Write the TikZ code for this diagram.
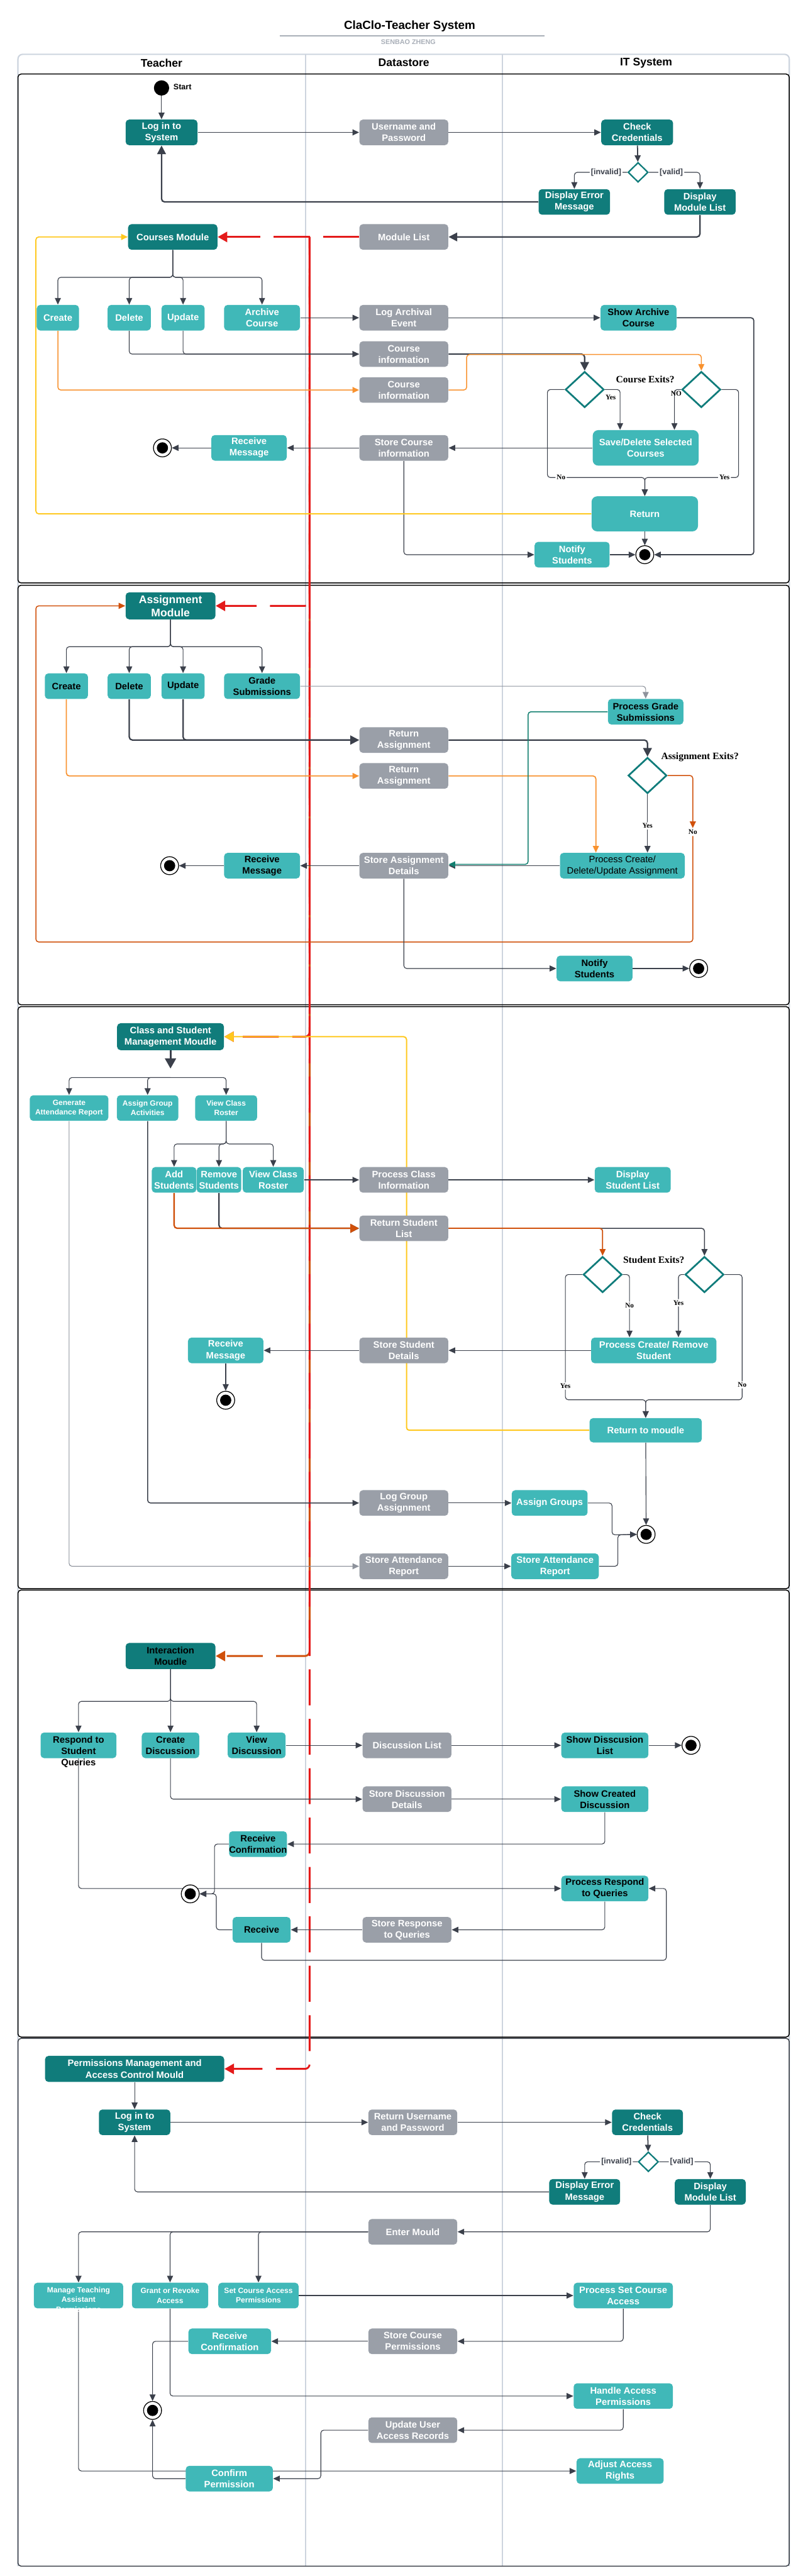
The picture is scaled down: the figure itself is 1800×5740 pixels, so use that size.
\documentclass[tikz,border=0pt]{standalone}
\usepackage{fontspec}
\setmainfont{Liberation Sans}
\newfontfamily\serifb{Liberation Serif}
\usetikzlibrary{arrows.meta,shapes.geometric}

\definecolor{deepteal}{HTML}{107C7B}
\definecolor{liteteal}{HTML}{40B8B8}
\definecolor{storegray}{HTML}{9A9FA8}
\definecolor{lanegray}{HTML}{CDD4DE}
\definecolor{linkgray}{HTML}{3B404B}
\definecolor{paleline}{HTML}{8E939C}
\definecolor{lightorange}{HTML}{F8922F}
\definecolor{burnt}{HTML}{D0500A}
\definecolor{sunny}{HTML}{FFC81E}
\definecolor{hotred}{HTML}{E41A1A}
\definecolor{tealline}{HTML}{127F70}
\definecolor{subgray}{HTML}{A9AFB8}
\definecolor{slate}{HTML}{3A3F47}

\newcommand{\boxfont}{\fontsize{5.9}{7.2}\selectfont\bfseries}
\newcommand{\bigboxfont}{\fontsize{7}{8.3}\selectfont\bfseries}
\newcommand{\smallboxfont}{\fontsize{4.8}{6.1}\selectfont\bfseries}
\newcommand{\plainboxfont}{\fontsize{5.9}{7.2}\selectfont}
\newcommand{\ynfont}{\fontsize{4.5}{5}\selectfont\serifb\bfseries}
\newcommand{\askfont}{\fontsize{6.2}{7}\selectfont\serifb\bfseries}

\pgfdeclarelayer{lanes}
\pgfdeclarelayer{links}
\pgfsetlayers{lanes,links,main}

\tikzset{
  tipa/.tip={Triangle[length=4.2pt,width=3.8pt]},
  tipb/.tip={Triangle[length=5.5pt,width=5.5pt]},
  tipc/.tip={Triangle[length=6pt,width=6.5pt]},
  tipd/.tip={Triangle[length=6.5pt,width=7pt]}
}

\begin{document}
\begin{tikzpicture}[
    x=0.01cm, y=-0.01cm,   % one unit = one pixel of the sheet, y runs down
    box/.style = {rectangle, rounded corners=2.2pt, minimum height=0.57cm, inner xsep=1.5pt, inner ysep=1pt, align=center, font=\boxfont},
    deep/.style = {box, fill=deepteal, text=white},
    deepk/.style = {box, fill=deepteal, text=black},
    lite/.style = {box, fill=liteteal, text=white},
    litek/.style = {box, fill=liteteal, text=black},
    store/.style = {box, fill=storegray, text=white, minimum width=1.98cm},
    choice/.style = {diamond, draw=deepteal, fill=white, line width=1.1pt, inner sep=0pt, minimum width=0.86cm, minimum height=0.8cm},
    gate/.style = {choice, line width=0.9pt, minimum width=0.45cm, minimum height=0.44cm},
    done/.style = {circle, draw=black, line width=0.5pt, fill=white, minimum size=0.4cm, inner sep=0pt,
                   path picture={\fill[black] (path picture bounding box.center) circle (0.125cm);}},
    startpt/.style = {circle, fill=black, minimum size=0.34cm, inner sep=0pt},
    link/.style = {draw=linkgray, line width=0.45pt, rounded corners=1.8pt, -{tipa}},
    heavy/.style = {draw=linkgray, line width=0.9pt, rounded corners=2pt, -{tipb}},
    hot/.style = {draw=hotred, line width=1.15pt, dash pattern=on 0.8cm off 0.3cm, rounded corners=3pt, -{tipc}},
    yn/.style = {font=\ynfont, fill=white, inner sep=0.8pt},
    gtxt/.style = {font=\fontsize{5}{6}\selectfont\bfseries, text=linkgray, fill=white, inner sep=0.8pt},
    ask/.style = {font=\askfont},
    lane/.style = {draw=lanegray, line width=0.85pt},
    part/.style = {draw=black, line width=0.6pt, rounded corners=2pt}
  ]
  \useasboundingbox (0,0) rectangle (1800,5740);

  % title
  \node[font=\fontsize{7.5}{9}\selectfont\bfseries] (title) at (913,58) {ClaClo-Teacher System};
  \draw[subgray, line width=0.5pt] (623,80) -- (1214,80);
  \node[font=\fontsize{4.3}{5}\selectfont\bfseries, text=subgray] (author) at (910,94) {SENBAO ZHENG};

  % pool, lanes and the five parts
  \begin{pgfonlayer}{lanes}
    \draw[lane, rounded corners=3pt] (40,5718) -- (40,121) -- (1759,121) -- (1759,5718);
    \draw[lane] (681,121) -- (681,5718);
    \draw[lane] (1120,121) -- (1120,5718);
    \foreach \ya/\yb in {165/1299, 1304/2239, 2243/3540, 3543/4539}
      \draw[part] (40,\ya) rectangle (1759,\yb);
    \draw[part, draw=slate] (40,4542) rectangle (1759,5718);
  \end{pgfonlayer}
  \node[font=\fontsize{7}{8}\selectfont\bfseries] (laneA) at (360,140) {Teacher};
  \node[font=\fontsize{7}{8}\selectfont\bfseries] (laneB) at (900,140) {Datastore};
  \node[font=\fontsize{7}{8}\selectfont\bfseries] (laneC) at (1440,140) {IT System};

  % ---- courses ----
  \node[startpt] (startc) at (360,196) {};
  \node[font=\fontsize{5}{6}\selectfont\bfseries, anchor=west, inner sep=0pt] (startlbl) at (386,194) {Start};
  \node[deep, minimum width=1.6cm] (login1) at (360,295) {Log in to\\System};
  \node[store] (user1) at (900,295) {Username and\\Password};
  \node[deep, minimum width=1.6cm] (check1) at (1420,295) {Check\\Credentials};
  \node[gate] (gate1) at (1422,384) {};
  \node[deep, minimum width=1.59cm] (err1) at (1280,450) {Display Error\\Message};
  \node[deep, minimum width=1.59cm] (mlist1) at (1560,450) {Display\\Module List};
  \node[store] (modlist) at (900,528) {Module List};
  \node[deep, minimum width=1.99cm] (cmod) at (385,528) {Courses Module};
  \node[lite, minimum width=0.94cm] (ccreate) at (129,708) {Create};
  \node[lite, minimum width=0.96cm] (cdelete) at (288,708) {Delete};
  \node[lite, minimum width=0.96cm] (cupdate) at (408,708) {Update};
  \node[lite, minimum width=1.69cm] (carchive) at (584,708) {Archive\\Course};
  \node[store] (logarch) at (900,708) {Log Archival\\Event};
  \node[store] (cinfoa) at (900,789) {Course\\information};
  \node[store] (cinfob) at (900,869) {Course\\information};
  \node[litek, minimum width=1.69cm] (showarch) at (1423,708) {Show Archive\\Course};
  \node[choice] (cx1) at (1303,868) {};
  \node[choice] (cx2) at (1563,868) {};
  \node[ask] (cxask) at (1438,845) {Course Exits?};
  \node[yn, fill=none] (cxyes) at (1361,885) {Yes};
  \node[yn, fill=none] (cxno) at (1507,877) {NO};
  \node[lite, minimum width=2.36cm, minimum height=0.79cm, rounded corners=3.5pt] (savedel) at (1439,998) {Save/Delete Selected\\Courses};
  \node[lite, minimum width=2.37cm, minimum height=0.78cm, rounded corners=3.5pt] (retc) at (1437,1145) {Return};
  \node[lite, minimum width=1.67cm] (notify1) at (1275,1236) {Notify\\Students};
  \node[done] (end1) at (1437,1236) {};
  \node[store] (storec) at (900,998) {Store Course\\information};
  \node[lite, minimum width=1.68cm] (recv1) at (555,998) {Receive\\Message};
  \node[done] (end2) at (362,998) {};

  % ---- assignments ----
  \node[deep, minimum width=2cm, minimum height=0.6cm, font=\bigboxfont] (amod) at (380,1350) {Assignment\\Module};
  \node[litek, minimum width=0.96cm] (acreate) at (148,1529) {Create};
  \node[litek, minimum width=0.96cm] (adelete) at (288,1529) {Delete};
  \node[litek, minimum width=0.96cm] (aupdate) at (408,1529) {Update};
  \node[litek, minimum width=1.69cm] (agrade) at (584,1529) {Grade\\Submissions};
  \node[litek, minimum width=1.68cm] (pgrade) at (1439,1586) {Process Grade\\Submissions};
  \node[store] (reta) at (900,1649) {Return\\Assignment};
  \node[store] (retb) at (900,1729) {Return\\Assignment};
  \node[choice] (ax) at (1443,1728) {};
  \node[ask] (axask) at (1560,1687) {Assignment Exits?};
  \node[yn] (axno) at (1544,1854) {No};
  \node[litek, minimum width=2.78cm, font=\plainboxfont] (pcda) at (1387,1929) {Process Create/\\Delete/Update Assignment};
  \node[store] (storea) at (900,1929) {Store Assignment\\Details};
  \node[litek, minimum width=1.69cm] (recv2) at (584,1929) {Receive\\Message};
  \node[done] (end3) at (378,1929) {};
  \node[litek, minimum width=1.69cm] (notify2) at (1325,2158) {Notify\\Students};
  \node[done] (end4) at (1557,2158) {};

  % ---- class and students ----
  \node[deep, minimum width=2.38cm, minimum height=0.6cm] (csm) at (380,2310) {Class and Student\\Management Moudle};
  \node[lite, font=\smallboxfont, minimum width=1.75cm] (gen) at (154,2469) {Generate\\Attendance Report};
  \node[lite, font=\smallboxfont, minimum width=1.37cm] (agact) at (329,2469) {Assign Group\\Activities};
  \node[lite, font=\smallboxfont, minimum width=1.38cm] (vcr1) at (504,2469) {View Class\\Roster};
  \node[lite, minimum width=0.96cm] (addst) at (388,2629) {Add\\Students};
  \node[lite, minimum width=0.95cm] (remst) at (488,2629) {Remove\\Students};
  \node[lite, minimum width=1.36cm] (vcr2) at (609,2629) {View Class\\Roster};
  \node[store] (pci) at (900,2629) {Process Class\\Information};
  \node[lite, minimum width=1.69cm] (dsl) at (1410,2629) {Display\\Student List};
  \node[store] (rsl) at (900,2737) {Return Student\\List};
  \node[choice] (sx1) at (1343,2840) {};
  \node[choice] (sx2) at (1570,2840) {};
  \node[ask] (sxask) at (1457,2807) {Student Exits?};
  \node[lite, minimum width=2.79cm] (pcrs) at (1457,3009) {Process Create/ Remove\\Student};
  \node[store] (ssd) at (900,3009) {Store Student\\Details};
  \node[lite, minimum width=1.68cm] (recv3) at (503,3009) {Receive\\Message};
  \node[done] (end5) at (503,3120) {};
  \node[lite, minimum width=2.5cm, minimum height=0.54cm] (rtm) at (1439,3187) {Return to moudle};
  \node[done] (end6) at (1440,3419) {};
  \node[store] (lga) at (900,3349) {Log Group\\Assignment};
  \node[lite, minimum width=1.69cm] (agrp) at (1225,3349) {Assign Groups};
  \node[store] (sar) at (900,3490) {Store Attendance\\Report};
  \node[lite, minimum width=1.95cm] (sar2) at (1237,3490) {Store Attendance\\Report};

  % ---- interaction ----
  \node[deepk, minimum width=2cm, minimum height=0.58cm] (imod) at (380,3690) {Interaction\\Moudle};
  \node[litek, minimum width=1.69cm] (rsq) at (175,3889) {};
  \node[font=\boxfont, align=center, text=black] (rsqtxt) at (175,3903) {Respond to\\Student\\Queries};
  \node[litek, minimum width=1.28cm] (cdisc) at (380,3889) {Create\\Discussion};
  \node[litek, minimum width=1.29cm] (vdisc) at (572,3889) {View\\Discussion};
  \node[store] (dlist) at (907,3889) {Discussion List};
  \node[litek, minimum width=1.94cm] (sdl) at (1348,3889) {Show Disscusion\\List};
  \node[done] (end7) at (1540,3889) {};
  \node[store] (sdd) at (907,4009) {Store Discussion\\Details};
  \node[litek, minimum width=1.94cm] (scd) at (1348,4009) {Show Created\\Discussion};
  \node[litek, minimum width=1.29cm] (rconf) at (575,4109) {Receive\\\makebox[0pt]{Confirmation}};
  \node[done] (end8) at (424,4220) {};
  \node[litek, minimum width=1.29cm] (rresp) at (583,4300) {Receive};
  \node[litek, minimum width=1.94cm] (prq) at (1348,4208) {Process Respond\\to Queries};
  \node[store] (srq) at (907,4300) {Store Response\\to Queries};

  % ---- permissions ----
  \node[deep, minimum width=3.99cm, minimum height=0.58cm] (pmod) at (300,4610) {Permissions Management and\\Access Control Mould};
  \node[deep, minimum width=1.59cm] (login2) at (300,4729) {Log in to\\System};
  \node[store] (user2) at (920,4729) {Return Username\\and Password};
  \node[deep, minimum width=1.58cm] (check2) at (1443,4729) {Check\\Credentials};
  \node[gate] (gate2) at (1445,4817) {};
  \node[deep, minimum width=1.58cm] (err2) at (1303,4884) {Display Error\\Message};
  \node[deep, minimum width=1.58cm] (mlist2) at (1583,4884) {Display\\Module List};
  \node[store] (enter) at (920,4973) {Enter Mould};
  \node[lite, minimum width=1.99cm] (mta) at (175,5115) {};
  \node[font=\smallboxfont, align=center, text=white] (mtatxt) at (175,5124) {Manage Teaching\\Assistant\\Permissions};
  \node[lite, font=\smallboxfont, minimum width=1.7cm] (grant) at (379,5115) {Grant or Revoke\\Access};
  \node[lite, font=\smallboxfont, minimum width=1.79cm] (setca) at (576,5115) {Set Course Access\\Permissions};
  \node[lite, minimum width=2.21cm] (psca) at (1389,5115) {Process Set Course\\Access};
  \node[store] (scp) at (920,5217) {Store Course\\Permissions};
  \node[lite, minimum width=1.84cm] (rconf2) at (512,5217) {Receive\\Confirmation};
  \node[done] (end9) at (340,5371) {};
  \node[lite, minimum width=2.21cm] (hap) at (1389,5339) {Handle Access\\Permissions};
  \node[store] (uuar) at (920,5415) {Update User\\Access Records};
  \node[lite, minimum width=1.94cm] (cperm) at (511,5523) {Confirm\\Permission};
  \node[lite, minimum width=1.94cm] (aar) at (1382,5506) {Adjust Access\\Rights};

  \begin{pgfonlayer}{links}
    % module list feeds every module
    \coordinate (redtop) at (690,528);
    \draw[hot] (modlist.west) -- (cmod.east);
    \draw[hot, draw=burnt, dash phase=0.4cm] (redtop) |- (imod.east);
    \draw[hot, dash phase=0.55cm] (redtop) |- (amod.east);
    \draw[hot, dash phase=0.25cm] (redtop) |- (csm.east);
    \draw[hot] (redtop) |- (pmod.east);

    % courses
    \draw[link] (startc) -- (login1);
    \draw[link, line width=0.7pt] (login1) -- (user1);
    \draw[link, line width=0.7pt] (user1) -- (check1);
    \draw[link, line width=0.7pt] (check1) -- (gate1);
    \draw[link] (gate1.west) -| node[gtxt, pos=0.2]{[invalid]} (err1.north);
    \draw[link] (gate1.east) -| node[gtxt, pos=0.22]{[valid]} (mlist1.north);
    \draw[heavy] (err1.west) -| (login1.south);
    \draw[heavy] (mlist1.south) |- (modlist.east);
    \coordinate (cfork) at (385,618);
    \foreach \n in {ccreate,cdelete,cupdate,carchive}
      \draw[link] (cmod.south) -- (cfork) -| (\n.north);
    \draw[link] (carchive) -- (logarch);
    \draw[link] (logarch) -- (showarch);
    \draw[link] (cdelete.south) |- (cinfoa.west);
    \draw[link] (cupdate.south) |- (cinfoa.west);
    \draw[link, draw=lightorange, line width=0.6pt] (ccreate.south) |- (cinfob.west);
    \draw[heavy] (cinfoa.east) -| (cx1.north);
    \draw[link, draw=lightorange, line width=0.6pt] (cinfob.east) -| (1040,790) -| (cx2.north);
    \draw[link] (cx1.east) -| ([xshift=-0.57cm]savedel.north);
    \draw[link] (cx2.west) -| ([xshift=0.64cm]savedel.north);
    \draw[link] (cx1.west) -- (1220,868) -- (1220,1064) -- node[yn, pos=0.14]{No} (1437,1064) -- (retc.north);
    \draw[link] (cx2.east) -- (1646,868) -- (1646,1064) -- node[yn, pos=0.15]{Yes} (1437,1064) -- (retc.north);
    \draw[link] (savedel) -- (storec);
    \draw[link] (storec) -- (recv1);
    \draw[link] (recv1) -- (end2);
    \draw[link] (storec.south) |- (notify1.west);
    \draw[link] (notify1) -- (end1);
    \draw[link] (retc) -- (end1);
    \draw[link, line width=0.7pt] (showarch.east) -| (1680,1236) -- (end1.east);
    \draw[link, draw=sunny, line width=0.7pt] (retc.west) -| (80,528) -- (cmod.west);

    % assignments
    \coordinate (afork) at (380,1441);
    \foreach \n in {acreate,adelete,aupdate,agrade}
      \draw[link] (amod.south) -- (afork) -| (\n.north);
    \draw[heavy] (adelete.south) |- (reta.west);
    \draw[heavy] (aupdate.south) |- (reta.west);
    \draw[link, draw=lightorange, line width=0.7pt] (acreate.south) |- (retb.west);
    \draw[link, draw=paleline] (agrade.east) -| (pgrade.north);
    \draw[heavy] (reta.east) -| (ax.north);
    \draw[link, draw=lightorange, line width=0.7pt] (retb.east) -| ([xshift=-0.59cm]pcda.north);
    \draw[link, line width=0.6pt] (ax.south) -- node[yn, pos=0.54]{Yes} (ax.south |- pcda.north);
    \draw[link, draw=burnt, line width=0.6pt] (ax.east) -| (axno.north);
    \draw[link, draw=burnt, line width=0.6pt] (axno.south) |- (80,2099) |- (amod.west);
    \draw[link, line width=0.55pt] (pcda) -- (storea);
    \draw[link, draw=tealline, line width=0.6pt] (pgrade.west) -| (1177,1926) -- ([yshift=0.03cm]storea.east);
    \draw[link] (storea) -- (recv2);
    \draw[link] (recv2) -- (end3);
    \draw[link] (storea.south) |- (notify2.west);
    \draw[link] (notify2) -- (end4);

    % class and students
    \draw[link, draw=sunny, line width=0.8pt, -{tipc}] (rtm.west) -| (906,2310) -- (csm.east);
    \coordinate (csarr) at (380,2381);
    \coordinate (csfork) at (380,2401);
    \draw[heavy, line width=1.2pt, -{tipd}] (csm.south) -- (csarr);
    \foreach \n in {gen,agact,vcr1}
      \draw[link] (csfork) -| (\n.north);
    \coordinate (vfork) at (504,2549);
    \foreach \n in {addst,remst,vcr2}
      \draw[link] (vcr1.south) -- (vfork) -| (\n.north);
    \draw[link] (vcr2) -- (pci);
    \draw[link] (pci) -- (dsl);
    \draw[heavy] (remst.south) |- (rsl.west);
    \draw[heavy, draw=burnt] (addst.south) |- (rsl.west);
    \draw[link, line width=0.6pt] (rsl.east) -| (sx2.north);
    \draw[link, draw=burnt, line width=0.7pt] (rsl.east) -| (sx1.north);
    \draw[link] (sx1.west) -- (1260,2840) -- node[yn, pos=0.89]{Yes} (1260,3119) -| (rtm.north);
    \draw[link] (sx2.east) -- (1654,2840) -- node[yn, pos=0.88]{No} (1654,3119) -| (rtm.north);
    \draw[link] (sx1.east) -| node[yn, pos=0.745]{No} ([xshift=-0.54cm]pcrs.north);
    \draw[link] (sx2.west) -| node[yn, pos=0.725]{Yes} ([xshift=0.55cm]pcrs.north);
    \draw[link] (pcrs) -- (ssd);
    \draw[link] (ssd) -- (recv3);
    \draw[link] (recv3) -- (end5);
    \draw[link] (rtm) -- (end6);
    \draw[link, line width=0.6pt] (agact.south) |- (lga.west);
    \draw[link, draw=paleline] (gen.south) |- (sar.west);
    \draw[link] (lga) -- (agrp);
    \draw[link] (sar) -- (sar2);
    \draw[link] (agrp.east) -| (1364,3420) -- (end6.west);
    \draw[link] (sar2.east) -| (1377,3420) -- (end6.west);

    % interaction
    \coordinate (ifork) at (380,3791);
    \foreach \n in {rsq,cdisc,vdisc}
      \draw[link] (imod.south) -- (ifork) -| (\n.north);
    \draw[link] (vdisc) -- (dlist);
    \draw[link] (dlist) -- (sdl);
    \draw[link] (sdl) -- (end7);
    \draw[link] (cdisc.south) |- (sdd.west);
    \draw[link] (sdd) -- (scd);
    \draw[link] (scd.south) |- (rconf.east);
    \draw[link] (rconf.west) -| (478,4220) -- (end8.east);
    \draw[link] (rresp.west) -| (482,4220) -- (end8.east);
    \draw[link] (rsq.south) |- (prq.west);
    \draw[link] (prq.south) |- (srq.east);
    \draw[link] (srq) -- (rresp);
    \draw[link] (rresp.south) |- (1485,4368) |- (prq.east);

    % permissions
    \draw[link] (pmod) -- (login2);
    \draw[link] (login2) -- (user2);
    \draw[link] (user2) -- (check2);
    \draw[link, line width=0.7pt] (check2) -- (gate2);
    \draw[link] (gate2.west) -| node[gtxt, pos=0.2]{[invalid]} (err2.north);
    \draw[link] (gate2.east) -| node[gtxt, pos=0.22]{[valid]} (mlist2.north);
    \draw[link] (err2.west) -| (login2.south);
    \draw[link] (mlist2.south) |- (enter.east);
    \foreach \n in {mta,grant,setca}
      \draw[link] (enter.west) -| (\n.north);
    \draw[link] (setca) -- (psca);
    \draw[link] (psca.south) |- (scp.east);
    \draw[link] (scp) -- (rconf2);
    \draw[link] (rconf2.west) -| (end9.north);
    \draw[link] (grant.south) |- (hap.west);
    \draw[link] (hap.south) |- (uuar.east);
    \draw[link] (uuar.west) -| (715,5523) -- (cperm.east);
    \draw[link] (cperm.west) -| (end9.south);
    \draw[link] (mta.south) |- (aar.west);
  \end{pgfonlayer}
\end{tikzpicture}
\end{document}
